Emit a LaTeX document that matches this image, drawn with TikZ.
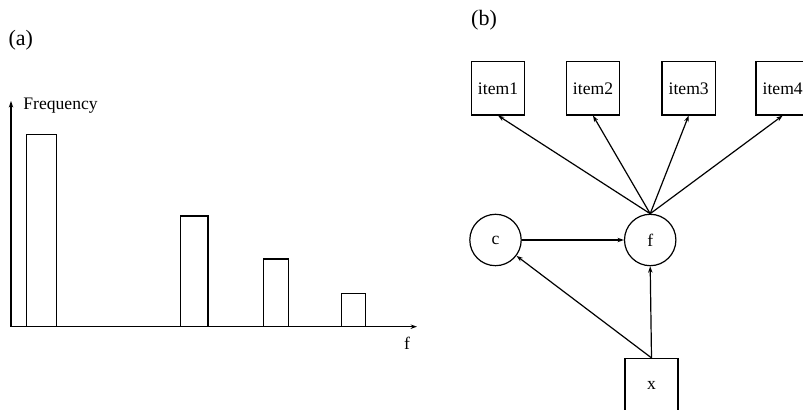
\documentclass[tikz,border=0pt]{standalone}
\usepackage{fontspec}
\setmainfont{Liberation Serif}
\usetikzlibrary{arrows.meta}
\begin{document}
\begin{tikzpicture}[x=0.5pt,y=-0.5pt,
  every node/.style={font=\fontsize{8.8pt}{10pt}\selectfont},
  panel/.style={font=\fontsize{11pt}{13pt}\selectfont},
  lw/.style={line width=0.6pt},
  arr/.style={lw,-{Stealth[length=3.2pt,width=2.2pt]}},
  itembox/.style={draw,lw,inner sep=0pt,minimum width=26.75pt,minimum height=26.65pt},
  latent/.style={draw,lw,circle,inner sep=0pt,minimum size=25.7pt},
  bar/.style={draw,lw}]
\useasboundingbox (0,0) rectangle (803,410);
% panel (a)
\node[panel] (la) at (20.8,40) {(a)};
\coordinate (origin) at (11,326.7);
\coordinate (ytop) at (11,101);
\coordinate (xend) at (417,326.7);
\draw[arr] (origin) -- (ytop);
\draw[arr] (origin) -- (xend);
\node[anchor=west,inner sep=0pt] (freq) at (23,105.7) {Frequency};
\node (flab) at (407,343) {f};
\draw[bar] (26.7,326.7) rectangle (56.3,134.7);
\draw[bar] (180.7,326.7) rectangle (208,216);
\draw[bar] (263.3,326.7) rectangle (288.3,259);
\draw[bar] (341.3,326.7) rectangle (365.7,293.7);
% panel (b)
\node[panel] (lb) at (484,20.7) {(b)};
\node[itembox] (i1) at (498,88.3) {item1};
\node[itembox] (i2) at (593,88.3) {item2};
\node[itembox] (i3) at (688.7,88.3) {item3};
\node[itembox] (i4) at (782.7,88.3) {item4};
\node[latent] (c) at (495.5,240) {c};
\node[latent] (f) at (650.2,240) {f};
\node[itembox,minimum width=26.5pt,minimum height=26.5pt] (x) at (651.5,385) {x};
\foreach \i in {i1,i2,i3,i4} \draw[arr] (f.north) -- (\i.south);
\draw[arr] (c) -- (f);
\draw[arr] (x.north) -- (f.south);
\draw[arr] (x.north) -- (c);
\end{tikzpicture}
\end{document}
